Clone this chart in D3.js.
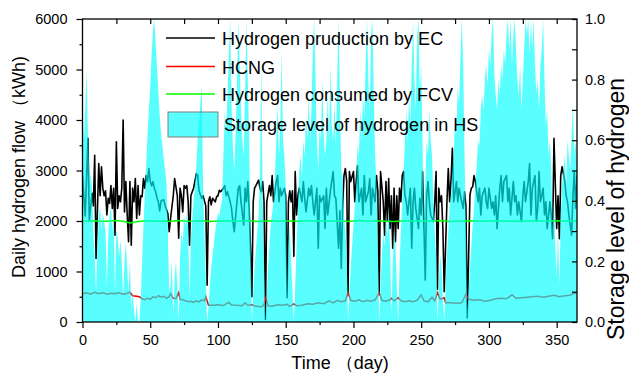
<!DOCTYPE html>
<html>
<head>
<meta charset="utf-8">
<script src="https://cdn.jsdelivr.net/npm/d3@7"></script>
<style>
  body { margin: 0; background: #fff; }
  svg text { font-family: "Liberation Sans", Arial, sans-serif; fill: #000; }
</style>
</head>
<body>
<svg id="chart" width="629" height="374"></svg>
<script>
// hydrogen production by EC (kWh), sampled at the days where the curve turns
const ecDay = [
  0, 2, 4, 5, 7, 8, 9, 10, 12, 13,
  14, 15, 16, 17, 18, 19, 20, 21, 22, 23,
  24, 25, 26, 27, 28, 29, 30, 31, 32, 33,
  34, 35, 36, 37, 38, 39, 40, 41, 42, 43,
  44, 45, 46, 47, 48, 49, 50, 51, 52, 53,
  54, 55, 56, 57, 58, 60, 61, 63, 64, 65,
  67, 68, 70, 71, 72, 73, 74, 75, 76, 77,
  78, 79, 80, 81, 82, 84, 85, 86, 88, 89,
  91, 92, 93, 94, 95, 96, 98, 99, 100, 101,
  102, 104, 105, 106, 107, 109, 110, 111, 112, 114,
  115, 116, 117, 119, 120, 121, 122, 123, 124, 125,
  126, 127, 128, 130, 131, 132, 133, 134, 135, 136,
  138, 139, 140, 141, 143, 144, 145, 146, 147, 148,
  149, 150, 151, 152, 153, 154, 155, 156, 157, 158,
  159, 160, 162, 163, 164, 165, 167, 168, 169, 170,
  171, 173, 174, 175, 176, 178, 179, 180, 181, 183,
  185, 186, 187, 189, 190, 191, 192, 193, 194, 195,
  196, 197, 198, 200, 201, 202, 203, 204, 206, 207,
  208, 209, 211, 212, 213, 214, 216, 217, 218, 219,
  220, 222, 223, 224, 225, 226, 227, 228, 229, 230,
  231, 232, 233, 234, 235, 236, 237, 238, 239, 240,
  242, 243, 244, 245, 246, 248, 249, 250, 251, 253,
  254, 255, 256, 257, 259, 260, 261, 262, 263, 264,
  265, 266, 267, 269, 270, 271, 272, 273, 274, 276,
  277, 278, 279, 281, 282, 283, 284, 286, 287, 288,
  289, 290, 292, 293, 294, 295, 297, 298, 299, 300,
  302, 303, 304, 305, 306, 308, 309, 310, 311, 313,
  314, 315, 316, 318, 319, 320, 321, 322, 324, 325,
  326, 327, 329, 330, 331, 332, 334, 335, 336, 337,
  338, 340, 341, 342, 343, 345, 346, 347, 348, 350,
  351, 352, 353, 354, 356, 357, 358, 359, 361, 362,
  363, 364, 365
];
const ecFlow = [
  2900, 2100, 3640, 2000, 2550, 2300, 3300, 1260, 3140, 2500,
  3075, 2650, 2500, 2600, 2120, 2450, 2350, 2700, 2250, 2650,
  1720, 3570, 2250, 2500, 2380, 2650, 4000, 2180, 2780, 2120,
  1590, 2780, 1520, 2650, 2380, 2840, 2050, 2700, 2120, 2500,
  2480, 2840, 2650, 2900, 2780, 3040, 2780, 2700, 2780, 2650,
  2580, 2450, 2380, 2200, 2400, 2420, 2300, 2150, 1790, 2050,
  2500, 2840, 2500, 1660, 2650, 2500, 2180, 2700, 2650, 2700,
  2380, 1520, 2500, 2580, 2650, 2940, 2900, 2600, 2450, 2500,
  2300, 730, 2380, 2480, 2320, 2450, 2380, 2480, 2500, 2610,
  2580, 2650, 2700, 2500, 2580, 2380, 2250, 1990, 1790, 2380,
  2650, 2700, 2380, 1920, 2650, 2380, 2780, 2250, 1460, 500,
  2380, 2650, 2700, 2810, 2650, 2580, 2780, 2380, 50, 2380,
  2700, 2500, 2900, 2380, 2780, 2900, 2380, 2650, 2500, 2580,
  2650, 2500, 480, 2380, 2600, 2380, 2600, 1300, 2980, 2120,
  2500, 2650, 2380, 2780, 2450, 2180, 2650, 2500, 2700, 2380,
  2120, 2650, 1460, 2500, 2380, 2500, 1850, 2650, 2120, 2600,
  2980, 2500, 2450, 1460, 2200, 1060, 2250, 2900, 3040, 2800,
  550, 2980, 2780, 2980, 2380, 2780, 3100, 2380, 2650, 2120,
  2900, 2380, 2580, 2840, 2120, 2650, 2380, 2900, 2600, 550,
  2980, 2380, 1720, 2780, 1990, 2840, 1850, 2500, 1460, 2650,
  1590, 2500, 1850, 2650, 2380, 2900, 2980, 2500, 2380, 2120,
  2650, 1460, 2380, 2650, 2250, 1850, 2450, 2120, 2980, 830,
  2500, 2780, 2380, 2120, 1990, 2380, 2980, 650, 2650, 2380,
  2500, 1850, 600, 2380, 3040, 2380, 2800, 3440, 2380, 2780,
  2380, 2650, 2500, 2250, 2580, 2300, 80, 2520, 2650, 2680,
  2900, 2780, 2380, 2650, 2120, 2500, 2650, 2380, 2250, 2650,
  2250, 2380, 2120, 2500, 1850, 2650, 2900, 2380, 2780, 2900,
  2380, 2650, 2120, 2780, 2380, 2500, 2120, 2380, 1990, 2500,
  2780, 2380, 2780, 3140, 2120, 2650, 2900, 1990, 2250, 2980,
  2380, 2650, 2120, 2380, 1850, 2380, 2120, 1650, 3640, 1850,
  2500, 1650, 2900, 3075, 2780, 2500, 2380, 2120, 1720, 2500,
  2980, 2250, 2900
];

// HCNG (kWh)
const hcngDay = [
  0, 3, 6, 9, 12, 15, 18, 21, 24, 27, 30, 33, 35, 37, 40, 42, 44, 46, 48, 50,
  52, 54, 56, 58, 60, 62, 64, 65, 67, 69, 71, 72, 74, 76, 78, 80, 82, 84, 86, 88,
  90, 91, 93, 96, 100, 104, 108, 110, 114, 118, 120, 122, 125, 128, 132, 134, 135, 137, 140, 144,
  148, 151, 153, 156, 158, 162, 166, 170, 174, 178, 182, 185, 188, 191, 194, 196, 198, 201, 204, 207,
  210, 213, 216, 219, 221, 224, 227, 228, 230, 233, 235, 238, 241, 244, 247, 250, 252, 255, 258, 260,
  262, 264, 267, 268, 272, 276, 280, 283, 285, 289, 293, 297, 301, 305, 309, 313, 317, 320, 324, 328,
  332, 336, 340, 344, 348, 352, 356, 360, 362, 365
];
const hcngFlow = [
  560, 580, 550, 590, 560, 580, 550, 570, 560, 580, 550, 570, 590, 520, 510, 500, 460, 440, 470, 450,
  500, 480, 520, 490, 510, 470, 500, 560, 470, 460, 580, 450, 440, 420, 400, 410, 390, 420, 400, 440,
  420, 500, 330, 330, 340, 325, 390, 335, 330, 320, 380, 330, 340, 310, 300, 340, 500, 320, 310, 340,
  330, 350, 310, 360, 320, 330, 360, 350, 380, 360, 420, 380, 430, 400, 420, 580, 430, 410, 440, 400,
  430, 410, 440, 580, 430, 410, 440, 470, 420, 480, 420, 400, 420, 400, 430, 540, 420, 400, 490, 420,
  580, 450, 480, 380, 380, 370, 380, 550, 450, 430, 440, 410, 430, 460, 470, 460, 540, 470, 480, 490,
  500, 510, 490, 510, 530, 500, 520, 530, 560, 580
];

// hydrogen consumed by FCV (kWh), every 5 days
const fcvDay = d3.range(0, 366, 5);
const fcvFlow = [
  2000, 1995, 2005, 1990, 2000, 2010, 1995, 1960, 1985, 2000,
  2005, 1995, 2000, 1990, 2010, 2000, 1995, 2005, 2000, 1990,
  2000, 2005, 2000, 1995, 2010, 2000, 1990, 2000, 2005, 1995,
  2000, 2000, 1995, 2010, 2000, 2005, 1995, 2000, 2005, 1990,
  2000, 2010, 1995, 2005, 2000, 1995, 1990, 2000, 2005, 1995,
  2000, 2005, 2000, 2010, 1990, 1995, 2000, 2005, 2000, 1995,
  2000, 2005, 2000, 1995, 2000, 1995, 2005, 2000, 2000, 1995,
  2005, 2000, 1995, 2000
];

// storage level of hydrogen in HS (0-1), one value per day 0..365
const storage = [
  0.70, 0.60, 0.70, 0.83, 0.62, 0.50, 0.48, 0.45, 0.30, 0.22,
  0.10, 0.25, 0.35, 0.38, 0.30, 0.36, 0.33, 0.30, 0.12, 0.28,
  0.35, 0.38, 0.30, 0.34, 0.10, 0.30, 0.28, 0.22, 0.27, 0.20,
  0.08, 0.20, 0.26, 0.18, 0.10, 0.20, 0.05, 0.10, 0.04, 0.00,
  0.06, 0.00, 0.00, 0.08, 0.20, 0.32, 0.42, 0.52, 0.62, 0.70,
  0.78, 0.88, 0.96, 1.00, 0.92, 0.84, 0.76, 0.68, 0.62, 0.58,
  0.54, 0.50, 0.46, 0.30, 0.10, 0.12, 0.20, 0.02, 0.15, 0.20,
  0.12, 0.00, 0.22, 0.30, 0.26, 0.35, 0.32, 0.36, 0.30, 0.08,
  0.28, 0.34, 0.40, 0.45, 0.52, 0.60, 0.66, 0.72, 0.78, 0.45,
  0.30, 0.15, 0.00, 0.05, 0.12, 0.18, 0.22, 0.26, 0.30, 0.33,
  0.36, 0.35, 0.38, 0.40, 0.55, 0.70, 0.62, 0.75, 0.88, 1.00,
  0.72, 0.58, 0.50, 0.62, 0.78, 1.00, 0.85, 0.70, 0.60, 0.55,
  0.75, 1.00, 0.80, 0.60, 0.30, 0.00, 0.10, 0.18, 0.24, 0.30,
  0.35, 0.50, 0.85, 0.40, 0.20, 0.00, 0.08, 0.18, 0.26, 0.32,
  0.36, 0.40, 0.48, 0.60, 0.72, 0.55, 0.65, 0.90, 0.60, 0.55,
  0.45, 0.08, 0.25, 0.32, 0.20, 0.10, 0.00, 0.12, 0.25, 0.38,
  0.50, 0.55, 0.48, 0.60, 0.55, 0.68, 0.60, 0.75, 0.60, 0.70,
  0.90, 1.00, 0.80, 0.60, 0.50, 0.65, 0.60, 0.80, 0.62, 0.55,
  0.60, 0.75, 0.60, 0.85, 0.65, 0.60, 0.72, 0.58, 0.80, 1.00,
  0.75, 0.50, 0.48, 0.35, 0.30, 0.22, 0.00, 0.10, 0.18, 0.25,
  0.32, 0.38, 0.45, 0.58, 0.55, 0.70, 0.60, 0.75, 0.68, 0.85,
  1.00, 0.80, 0.70, 0.95, 1.00, 0.75, 0.55, 0.45, 0.25, 0.00,
  0.12, 0.22, 0.30, 0.25, 0.35, 0.28, 0.38, 0.25, 0.02, 0.20,
  0.30, 0.26, 0.12, 0.00, 0.18, 0.30, 0.40, 0.50, 0.60, 0.70,
  0.60, 0.75, 0.65, 0.85, 1.00, 0.80, 0.70, 0.95, 1.00, 0.75,
  0.85, 0.60, 0.30, 0.45, 0.60, 0.55, 0.70, 0.60, 0.55, 0.40,
  0.30, 0.22, 0.00, 0.12, 0.22, 0.18, 0.08, 0.00, 0.12, 0.22,
  0.30, 0.38, 0.42, 0.50, 0.55, 0.68, 0.62, 0.78, 0.72, 0.88,
  1.00, 0.85, 0.55, 0.30, 0.03, 0.10, 0.18, 0.25, 0.32, 0.38,
  0.45, 0.52, 0.60, 0.58, 0.70, 0.75, 0.70, 0.80, 0.85, 0.78,
  0.90, 0.85, 0.95, 1.00, 0.82, 0.75, 0.70, 0.80, 0.75, 0.85,
  0.80, 0.90, 0.85, 0.95, 1.00, 0.90, 1.00, 0.85, 0.95, 1.00,
  0.90, 0.80, 0.75, 0.85, 0.70, 0.80, 0.90, 1.00, 0.95, 1.00,
  0.88, 1.00, 0.90, 1.00, 0.85, 0.75, 0.80, 0.70, 0.85, 0.90,
  1.00, 0.80, 0.65, 0.70, 0.55, 0.60, 0.50, 0.30, 0.40, 0.25,
  0.15, 0.30, 0.12, 0.35, 0.45, 0.50, 0.55, 0.45, 0.60, 0.55,
  0.50, 0.62, 0.72, 0.55, 0.60, 0.50
];

const xTicks = [0, 50, 100, 150, 200, 250, 300, 350];
const yLeftTicks = [0, 1000, 2000, 3000, 4000, 5000, 6000];
const yRightTicks = [0, 0.2, 0.4, 0.6, 0.8, 1.0];

const legendItems = [
  { label: "Hydrogen pruduction by EC", type: "line", color: "#000000" },
  { label: "HCNG", type: "line", color: "#ff0000" },
  { label: "Hydrogen consumed by FCV", type: "line", color: "#00ff00" },
  { label: "Storage level of hydrogen in HS", type: "area", color: "#00ffff" }
];

const plotL = 82.5, plotR = 577, plotT = 19, plotB = 322;

const svg = d3.select("#chart");

const x = d3.scaleLinear().domain([0, 365]).range([plotL, plotR]);
const yL = d3.scaleLinear().domain([0, 6000]).range([plotB, plotT]);
const yR = d3.scaleLinear().domain([0, 1]).range([plotB, plotT]);

svg.append("defs").append("clipPath").attr("id", "plot")
  .append("rect")
  .attr("x", plotL).attr("y", plotT)
  .attr("width", plotR - plotL).attr("height", plotB - plotT);

const plot = svg.append("g").attr("clip-path", "url(#plot)");

const zip = (days, vals) => days.map((d, i) => [d, vals[i]]).filter(p => p[1] !== undefined);

const flowLine = d3.line()
  .x(d => x(d[0]))
  .y(d => yL(d[1]));

// lines go under the translucent storage area
plot.append("path")
  .datum(zip(ecDay, ecFlow))
  .attr("fill", "none")
  .attr("stroke", "#000")
  .attr("stroke-width", 1.6)
  .attr("stroke-linejoin", "round")
  .attr("d", flowLine);

plot.append("path")
  .datum(zip(hcngDay, hcngFlow))
  .attr("fill", "none")
  .attr("stroke", "#ff0000")
  .attr("stroke-width", 1.5)
  .attr("d", flowLine);

plot.append("path")
  .datum(zip(fcvDay, fcvFlow))
  .attr("fill", "none")
  .attr("stroke", "#00ff00")
  .attr("stroke-width", 1.5)
  .attr("d", flowLine);

const storageArea = d3.area()
  .x((d, i) => x(i))
  .y0(yR(0))
  .y1(d => yR(d));

plot.append("path")
  .datum(storage)
  .attr("fill", "#00ffff")
  .attr("fill-opacity", 0.65)
  .attr("d", storageArea);

// axes
const fontSize = "14.5px";

svg.append("g")
  .attr("transform", `translate(${plotL},0)`)
  .call(d3.axisLeft(yL).tickValues(yLeftTicks).tickSize(6).tickPadding(9).tickFormat(d3.format("d")));
svg.append("g")
  .attr("transform", `translate(${plotL},0)`)
  .call(d3.axisLeft(yL).tickValues(d3.range(500, 6000, 1000)).tickSize(3).tickFormat(""));

svg.append("g")
  .attr("transform", `translate(0,${plotB})`)
  .call(d3.axisBottom(x).tickValues(xTicks).tickSize(6).tickPadding(7));
svg.append("g")
  .attr("transform", `translate(0,${plotB})`)
  .call(d3.axisBottom(x).tickValues(d3.range(25, 366, 50)).tickSize(3).tickFormat(""));

svg.append("g")
  .attr("transform", `translate(0,${plotT})`)
  .call(d3.axisTop(x).tickValues(d3.range(25, 366, 25)).tickSize(-5).tickFormat(""));

svg.append("g")
  .attr("transform", `translate(${plotR},0)`)
  .call(d3.axisRight(yR).tickValues(yRightTicks).tickSize(-5).tickPadding(8).tickFormat(d3.format(".1f")));
svg.append("g")
  .attr("transform", `translate(${plotR},0)`)
  .call(d3.axisRight(yR).tickValues([0.1, 0.3, 0.5, 0.7, 0.9]).tickSize(-5).tickFormat(""));

svg.selectAll(".domain").remove();
svg.selectAll(".tick line").attr("stroke", "#000").attr("stroke-width", 1.2);
svg.selectAll(".tick text").attr("font-size", fontSize).attr("font-family", "Liberation Sans, Arial, sans-serif");

// frame
svg.append("rect")
  .attr("x", plotL).attr("y", plotT)
  .attr("width", plotR - plotL).attr("height", plotB - plotT)
  .attr("fill", "none")
  .attr("stroke", "#000")
  .attr("stroke-width", 1.3);

// axis titles
svg.append("text")
  .attr("transform", "translate(25,167) rotate(-90)")
  .attr("text-anchor", "middle")
  .attr("font-size", "18px")
  .text("Daily hydrogen flow （kWh)");

svg.append("text")
  .attr("x", 340).attr("y", 369)
  .attr("text-anchor", "middle")
  .attr("font-size", "18px")
  .text("Time （day)");

svg.append("text")
  .attr("transform", "translate(624,209) rotate(-90)")
  .attr("text-anchor", "middle")
  .attr("font-size", "23px")
  .text("Storage level of hydrogen");

// legend
const rowY = [38, 66.5, 94, 124];
const legend = svg.append("g");
legendItems.forEach((item, i) => {
  const y = rowY[i];
  if (item.type === "line") {
    legend.append("line")
      .attr("x1", 166).attr("x2", 215)
      .attr("y1", y).attr("y2", y)
      .attr("stroke", item.color)
      .attr("stroke-width", 1.6);
  } else {
    legend.append("rect")
      .attr("x", 168).attr("y", y - 12)
      .attr("width", 50).attr("height", 25)
      .attr("fill", item.color)
      .attr("fill-opacity", 0.65)
      .attr("stroke", "#808080")
      .attr("stroke-width", 1);
  }
  legend.append("text")
    .attr("x", item.type === "line" ? 222 : 224)
    .attr("y", y + 7)
    .attr("font-size", "18px")
    .text(item.label);
});
</script>
</body>
</html>
